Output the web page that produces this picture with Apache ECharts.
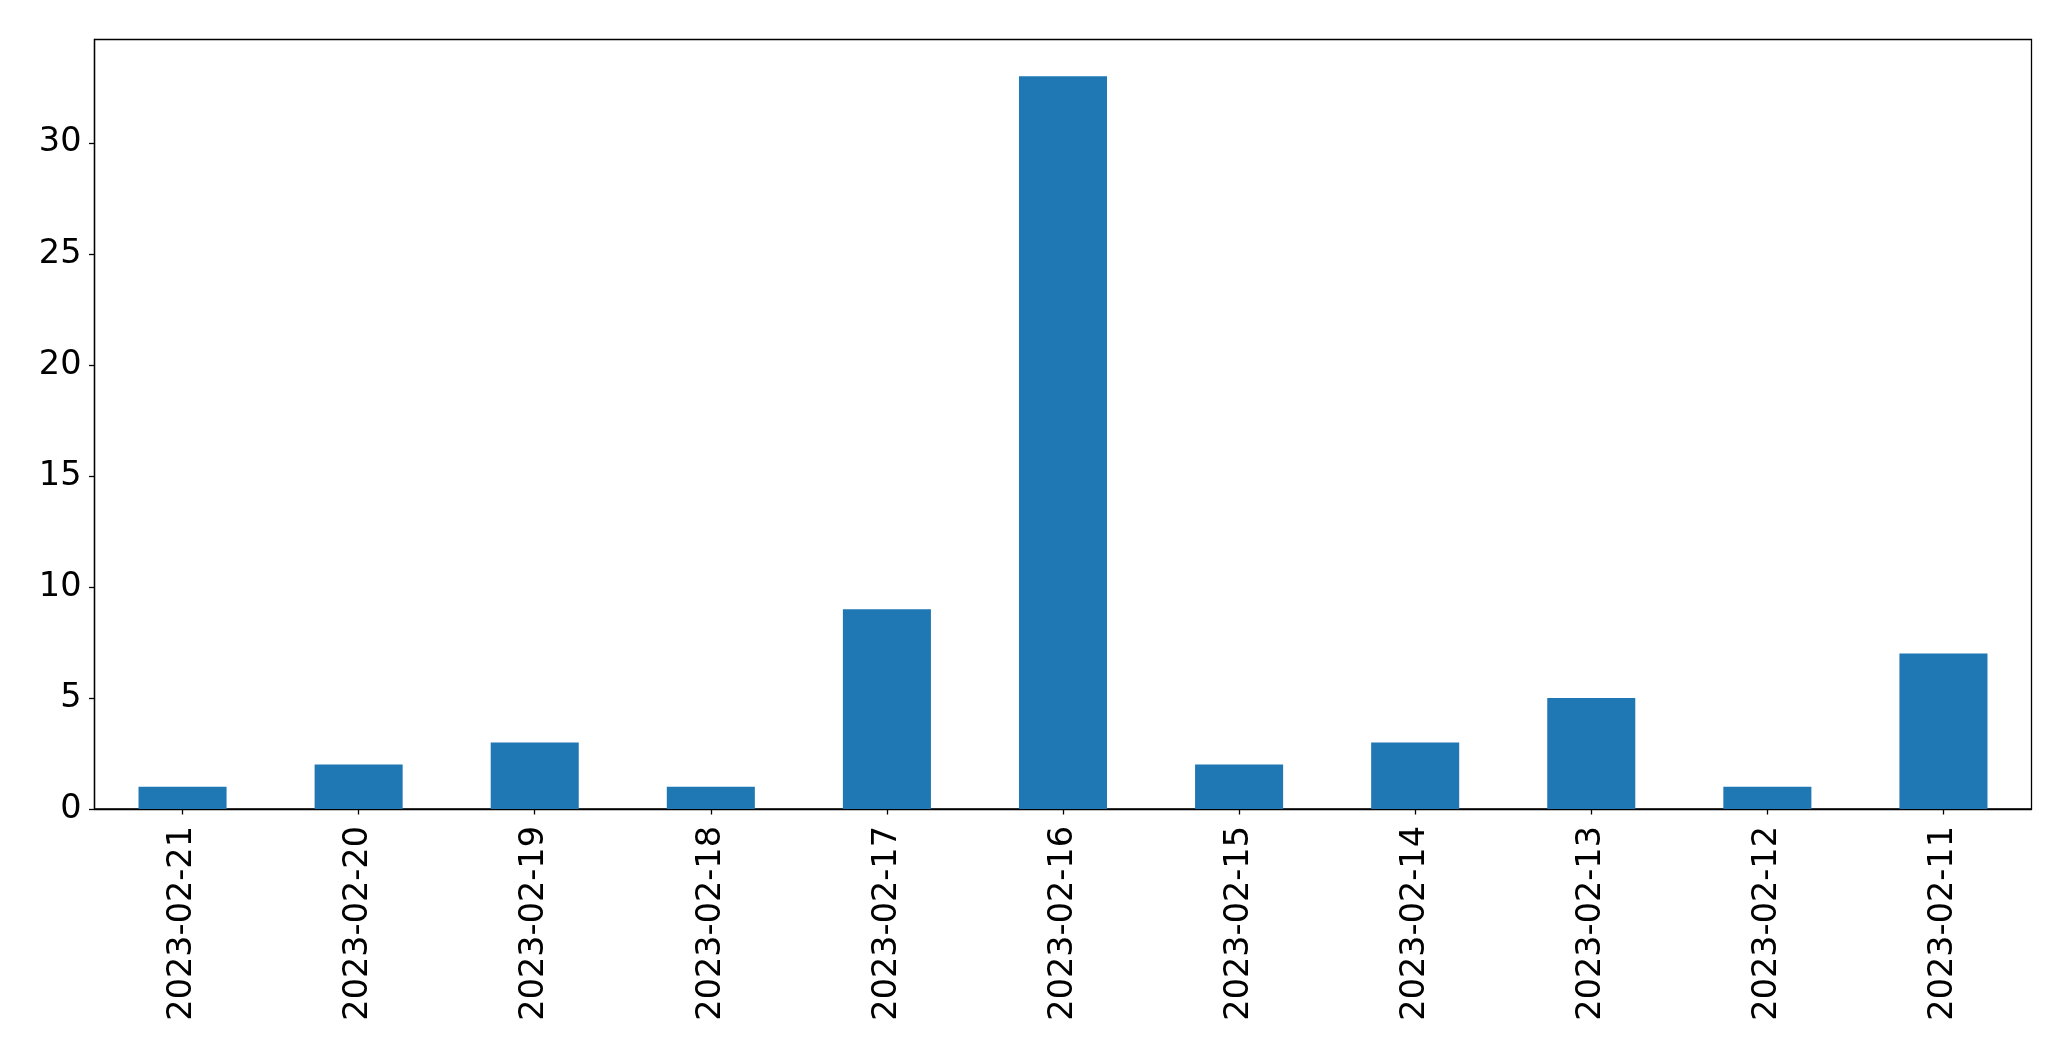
<!DOCTYPE html>
<html>
<head>
<meta charset="utf-8">
<script src="https://cdn.jsdelivr.net/npm/echarts@6/dist/echarts.min.js"></script>
<style>html,body{margin:0;padding:0;background:#fff}#c{width:2071px;height:1061px}</style>
</head>
<body>
<div id="c"></div>
<script>
const categories = ["2023-02-21","2023-02-20","2023-02-19","2023-02-18","2023-02-17","2023-02-16","2023-02-15","2023-02-14","2023-02-13","2023-02-12","2023-02-11"];
const values = [1,2,3,1,9,33,2,3,5,1,7];
const yTicks = [0,5,10,15,20,25,30];

const chart = echarts.init(document.getElementById('c'), null, {renderer:'canvas'});
const font = {fontFamily:'DejaVu Sans', fontSize:33.5, color:'#000'};
chart.setOption({
  animation:false,
  grid:{left:94.5, right:39.5, top:39.5, bottom:252, show:true, borderColor:'#000', borderWidth:1.3, backgroundColor:'transparent', containLabel:false},
  xAxis:{type:'category', data:categories, boundaryGap:true,
    axisLine:{show:true, lineStyle:{color:'#000', width:1.3}},
    axisTick:{show:true, alignWithLabel:true, length:5.5, lineStyle:{color:'#000', width:1.3}},
    axisLabel:Object.assign({rotate:90, margin:17, interval:0}, font),
    splitLine:{show:false}},
  yAxis:{type:'value', min:0, max:34.65, interval:5,
    axisLine:{show:true, lineStyle:{color:'#000', width:1.3}},
    axisTick:{show:true, length:5.5, customValues:yTicks, lineStyle:{color:'#000', width:1.3}},
    axisLabel:Object.assign({margin:13, customValues:yTicks}, font),
    splitLine:{show:false}},
  series:[{type:'bar', data:values, barWidth:'50%', itemStyle:{color:'#1f77b4'}}]
});
</script>
</body>
</html>
